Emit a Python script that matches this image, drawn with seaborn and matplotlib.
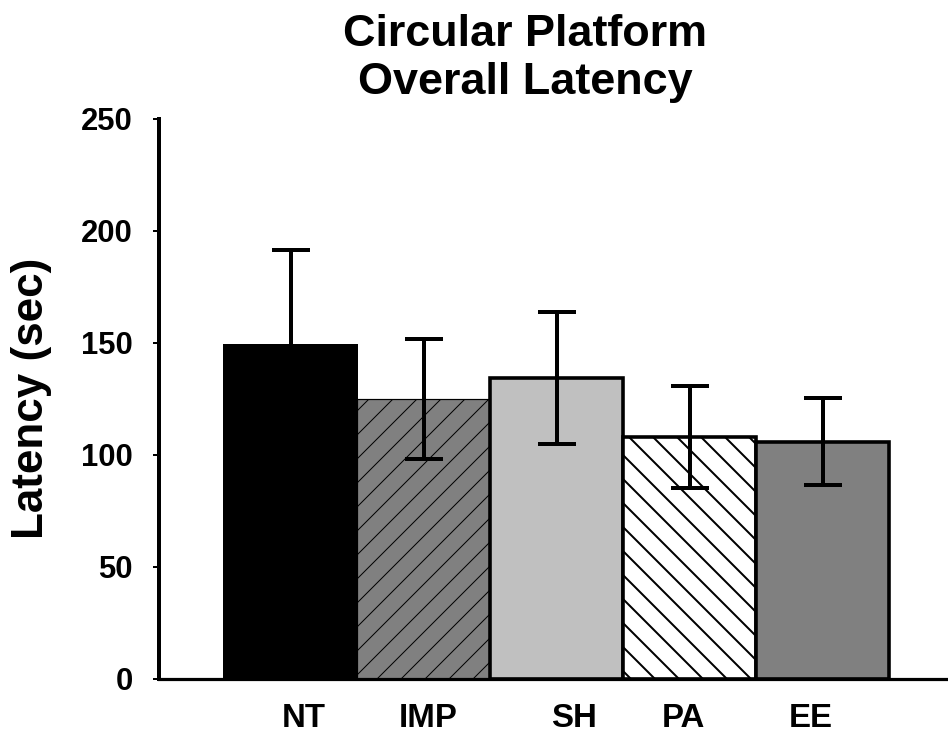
import matplotlib
matplotlib.use("Agg")
import matplotlib.pyplot as plt
import seaborn as sns

# data
groups = ["NT", "IMP", "SH", "PA", "EE"]
latency_mean = [149.0, 125.0, 134.2, 107.9, 106.0]
latency_sem = [42.5, 27.0, 29.5, 22.7, 19.3]

bar_colors = ["#000000", "#808080", "#c0c0c0", "#ffffff", "#808080"]
bar_hatches = ["", "//", "", "\\\\", ""]
y_ticks = [0, 50, 100, 150, 200, 250]

sns.set_style("ticks")
plt.rcParams["font.family"] = ["Liberation Sans", "DejaVu Sans"]
plt.rcParams["font.weight"] = "bold"
plt.rcParams["text.color"] = "black"

# dpi 144 so one hatch cell is 144 px wide (wider hatch spacing)
DPI = 144
fig = plt.figure(figsize=(948 / DPI, 733 / DPI), dpi=DPI)
ax = fig.add_axes([159 / 948, 1 - 679 / 733, 1 - 159 / 948, (679 - 119) / 733])

sns.barplot(x=groups, y=latency_mean, hue=groups, palette=bar_colors,
            width=1.0, saturation=1, legend=False, ax=ax,
            edgecolor="black", linewidth=1.7)

edge_w = [1.0, 0.6, 1.8, 1.8, 1.8]
for p, h, lw in zip(ax.patches, bar_hatches, edge_w):
    p.set_hatch(h)
    p.set_linewidth(lw)
    if hasattr(p, "set_hatch_linewidth"):
        p.set_hatch_linewidth(0.5 if h == "//" else 1.0)

centers = [p.get_x() + p.get_width() / 2 for p in ax.patches]
ax.errorbar(centers, latency_mean, yerr=latency_sem, fmt="none",
            ecolor="black", elinewidth=2.0, capsize=9.5, capthick=2.0, zorder=5)

ax.set_ylim(0, 250)
ax.set_yticks(y_ticks)
ax.set_xlim(-0.99, 4.94)
ax.set_xlabel("")
ax.set_ylabel("")
sns.despine(ax=ax)
ax.spines["left"].set_linewidth(2.0)
ax.spines["bottom"].set_linewidth(1.6)
ax.spines["left"].set_color("black")
ax.spines["bottom"].set_color("black")

ax.tick_params(axis="y", length=3, width=1, pad=10, labelsize=15.5, colors="black")
ax.tick_params(axis="x", length=0, labelsize=17, colors="black")
for lab in ax.get_yticklabels():
    lab.set_fontweight("bold")

# shift x labels a bit, as in the reference
label_shift = [0.10, 0.03, 0.13, -0.05, -0.09]
ax.set_xticks(centers)
ax.set_xticklabels([])
for c, s, g in zip(centers, label_shift, groups):
    ax.text(c + s, -0.042, g, transform=ax.get_xaxis_transform(),
            ha="center", va="top", fontsize=16.5, fontweight="bold", color="black")

fig.text(32 / 948, 1 - 398 / 733, "Latency (sec)", rotation=90,
         ha="center", va="center", fontsize=22, fontweight="bold", color="black")
fig.text(525 / 948, 1 - 14 / 733, "Circular Platform\nOverall Latency",
         ha="center", va="top", fontsize=22.5, fontweight="bold", linespacing=1.22,
         color="black")

fig.savefig("out.png", dpi=DPI)
